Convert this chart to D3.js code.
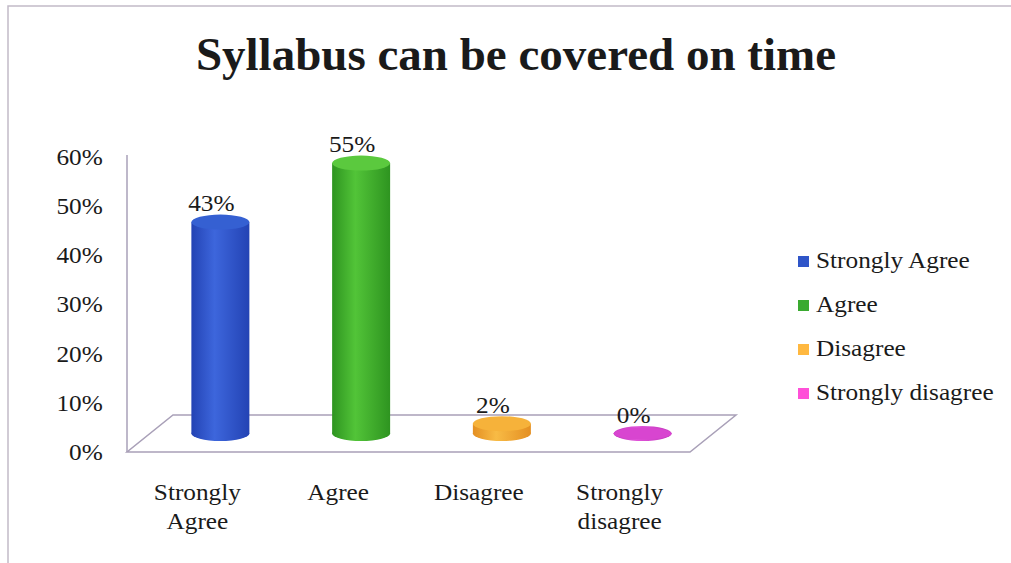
<!DOCTYPE html>
<html>
<head>
<meta charset="utf-8">
<script src="https://cdn.jsdelivr.net/npm/d3@7"></script>
<style>
  body { margin: 0; background: #fff; }
  svg text, svg tspan { font-family: "Liberation Serif", "Times New Roman", serif !important; fill: #1a1a1a; }
</style>
</head>
<body>
<div id="chart"></div>
<script>
const categories = ['Strongly Agree', 'Agree', 'Disagree', 'Strongly disagree'];
const categoryLines = [['Strongly', 'Agree'], ['Agree'], ['Disagree'], ['Strongly', 'disagree']];
const values = [0.43, 0.55, 0.02, 0.00];
const tickValues = [0, 0.1, 0.2, 0.3, 0.4, 0.5, 0.6];
const title = 'Syllabus can be covered on time';

const width = 1011;
const height = 563;
const stretch = 1.1; // text in the picture is a bit wide
const serif = '"Liberation Serif", "Times New Roman", serif';

// colours: edge, middle, top cap, legend
const palette = [
  { edge: '#2343b4', mid: '#3d66dc', top: '#3560d2', key: '#2f55c8' },
  { edge: '#2e9420', mid: '#52c438', top: '#5bc93e', key: '#3aaa30' },
  { edge: '#e48f22', mid: '#f8bb45', top: '#f6b23a', key: '#ffb840' },
  { edge: '#c238bd', mid: '#e052d8', top: '#d845d0', key: '#ff50d8' },
];

const svg = d3.select('#chart')
  .append('svg')
  .attr('width', width)
  .attr('height', height)
  .attr('font-family', serif);

// outer frame
svg.append('rect')
  .attr('x', 8).attr('y', 6)
  .attr('width', 1020).attr('height', 600)
  .attr('fill', 'none')
  .attr('stroke', '#c2bac8')
  .attr('stroke-width', 1.5);

svg.append('text')
  .attr('x', 516).attr('y', 70)
  .attr('text-anchor', 'middle')
  .style('font-size', '47px')
  .style('font-weight', 'bold')
  .text(title);

const x = d3.scaleBand()
  .domain(categories)
  .range([127, 690]);

const y = d3.scaleLinear()
  .domain([0, 0.6])
  .range([452, 157]);

// floor depth
const depthX = 46;
const depthY = -37;

const defs = svg.append('defs');
palette.forEach((p, i) => {
  const grad = defs.append('linearGradient')
    .attr('id', `cyl${i}`)
    .attr('x1', '0%').attr('y1', '0%')
    .attr('x2', '100%').attr('y2', '0%');
  grad.append('stop').attr('offset', '0%').attr('stop-color', p.edge);
  grad.append('stop').attr('offset', '40%').attr('stop-color', p.mid);
  grad.append('stop').attr('offset', '100%').attr('stop-color', p.edge);
});

// y axis
const yAxis = svg.append('g')
  .attr('transform', 'translate(127,0)')
  .call(d3.axisLeft(y).tickValues(tickValues).tickFormat(d3.format('.0%')).tickSize(0).tickPadding(22));
yAxis.attr('font-family', serif).attr('font-size', 23);
yAxis.select('.domain').remove();
yAxis.selectAll('text')
  .style('font-family', serif)
  .style('font-size', '23px')
  .attr('transform', `scale(${stretch},1)`);

svg.append('line')
  .attr('x1', 127).attr('x2', 127)
  .attr('y1', y(0)).attr('y2', 155)
  .attr('stroke', '#a9a0b8')
  .attr('stroke-width', 1.5);

// floor
const x0 = x.range()[0];
const x1 = x.range()[1];
svg.append('path')
  .attr('d', `M${x0},${y(0)} L${x1},${y(0)} L${x1 + depthX},${y(0) + depthY} L${x0 + depthX},${y(0) + depthY} Z`)
  .attr('fill', 'none')
  .attr('stroke', '#a9a0b8')
  .attr('stroke-width', 1.5);

// cylinders
const rx = 29;
const ry = 7.5;
const baseShift = (v) => y(v) + depthY / 2;

const bars = svg.selectAll('.bar')
  .data(values)
  .enter()
  .append('g')
  .attr('class', 'bar')
  .attr('transform', (d, i) => `translate(${x(categories[i]) + x.bandwidth() / 2 + depthX / 2},0)`);

bars.append('ellipse')
  .attr('cx', 0).attr('cy', baseShift(0))
  .attr('rx', rx).attr('ry', ry)
  .attr('fill', (d, i) => `url(#cyl${i})`);

bars.append('rect')
  .attr('x', -rx)
  .attr('y', (d) => baseShift(d))
  .attr('width', rx * 2)
  .attr('height', (d) => baseShift(0) - baseShift(d))
  .attr('fill', (d, i) => `url(#cyl${i})`);

bars.append('ellipse')
  .attr('cx', 0).attr('cy', (d) => baseShift(d))
  .attr('rx', rx).attr('ry', (d) => (d === 0 ? 6 : ry))
  .attr('fill', (d, i) => palette[i].top);

bars.append('text')
  .attr('text-anchor', 'middle')
  .attr('transform', (d) => `translate(-9,${baseShift(d) - 11}) scale(${stretch},1)`)
  .style('font-family', serif)
  .style('font-size', '23px')
  .text((d) => d3.format('.0%')(d));

// category labels
svg.selectAll('.cat')
  .data(categoryLines)
  .enter()
  .append('text')
  .attr('class', 'cat')
  .attr('text-anchor', 'middle')
  .attr('transform', (d, i) => `translate(${x(categories[i]) + x.bandwidth() / 2},500) scale(${stretch},1)`)
  .style('font-family', serif)
  .style('font-size', '23px')
  .selectAll('tspan')
  .data((d) => d)
  .enter()
  .append('tspan')
  .attr('x', 0)
  .attr('dy', (d, j) => (j === 0 ? 0 : 29))
  .text((d) => d);

// legend
const legend = svg.selectAll('.legend')
  .data(categories)
  .enter()
  .append('g')
  .attr('class', 'legend')
  .attr('transform', (d, i) => `translate(798,${268 + i * 44})`);

legend.append('rect')
  .attr('x', 0).attr('y', -12)
  .attr('width', 11).attr('height', 11)
  .attr('fill', (d, i) => palette[i].key);

legend.append('text')
  .attr('transform', `translate(18,0) scale(${stretch},1)`)
  .style('font-family', serif)
  .style('font-size', '23px')
  .text((d) => d);
</script>
</body>
</html>
